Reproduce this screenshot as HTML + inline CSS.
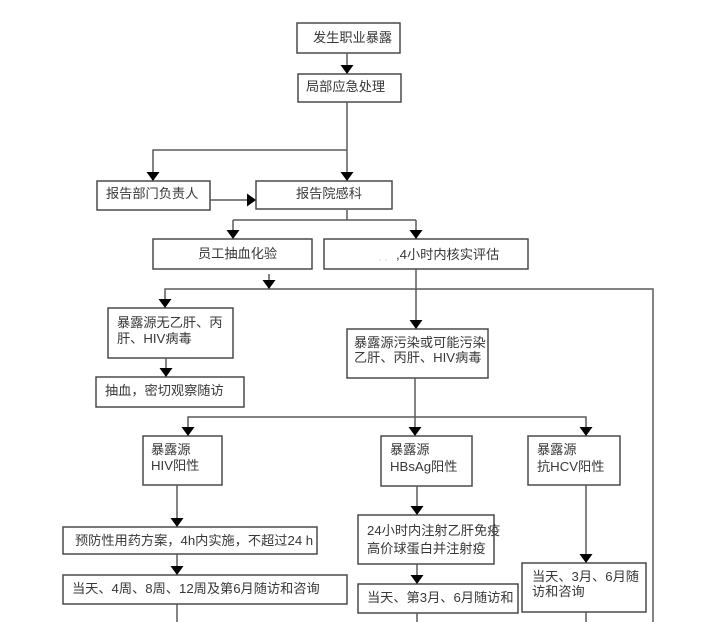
<!DOCTYPE html>
<html><head><meta charset="utf-8"><style>
html,body{margin:0;padding:0;background:#fff;}
svg{display:block;}
text{font-family:"Liberation Sans","Noto Sans CJK SC",sans-serif;font-size:13.2px;fill:#383838;}
</style></head><body>
<svg width="706" height="622" viewBox="0 0 706 622" xmlns="http://www.w3.org/2000/svg">
<g fill="#fff" stroke="#4a4a4a" stroke-width="1.5">
<rect x="297" y="23" width="103" height="30"/>
<rect x="298" y="74" width="103" height="28"/>
<rect x="97" y="181" width="113" height="29"/>
<rect x="256" y="181" width="136" height="28"/>
<rect x="153" y="239" width="159" height="30"/>
<rect x="324" y="239" width="204" height="30"/>
<rect x="108" y="308" width="125" height="50"/>
<rect x="96" y="377" width="148" height="30"/>
<rect x="347" y="329" width="141" height="49"/>
<rect x="143" y="436" width="79" height="49"/>
<rect x="381" y="436" width="91" height="50"/>
<rect x="528" y="436" width="92" height="49"/>
<rect x="63" y="527" width="254" height="27"/>
<rect x="63" y="575" width="284" height="29"/>
<rect x="358" y="515" width="136" height="49"/>
<rect x="358" y="584" width="160" height="29"/>
<rect x="522" y="563" width="124" height="49"/>
</g>
<g fill="none" stroke="#5a5a5a" stroke-width="1.5">
<path d="M347 53V66"/>
<path d="M347 102V173"/>
<path d="M347 150H153V173"/>
<path d="M210 200H248"/>
<path d="M347 210V220M233 220H416M233 220V231M416 220V231"/>
<path d="M269 274V281"/>
<path d="M165 300V289H653V622"/>
<path d="M416 269V321"/>
<path d="M166 358V369"/>
<path d="M415 378V428"/>
<path d="M188 428V417H586V428"/>
<path d="M177 485V519"/>
<path d="M177 554V567"/>
<path d="M177 604V622"/>
<path d="M417 486V507"/>
<path d="M417 564V576"/>
<path d="M417 613V622"/>
<path d="M586 485V555"/>
<path d="M586 612V622"/>
</g>
<g fill="#000">
<polygon points="340.5,65 353.5,65 347,74"/>
<polygon points="340.5,172 353.5,172 347,181"/>
<polygon points="146.5,172 159.5,172 153,181"/>
<polygon points="247,193.5 247,206.5 256,200"/>
<polygon points="226.5,230 239.5,230 233,239"/>
<polygon points="409.5,230 422.5,230 416,239"/>
<polygon points="262.5,280 275.5,280 269,289"/>
<polygon points="158.5,299 171.5,299 165,308"/>
<polygon points="409.5,320 422.5,320 416,329"/>
<polygon points="159.5,368 172.5,368 166,377"/>
<polygon points="181.5,427 194.5,427 188,436"/>
<polygon points="408.5,427 421.5,427 415,436"/>
<polygon points="579.5,427 592.5,427 586,436"/>
<polygon points="170.5,518 183.5,518 177,527"/>
<polygon points="170.5,566 183.5,566 177,575"/>
<polygon points="410.5,506 423.5,506 417,515"/>
<polygon points="410.5,575 423.5,575 417,584"/>
<polygon points="579.5,554 592.5,554 586,563"/>
</g>
<text x="313" y="42">发生职业暴露</text>
<text x="306" y="91">局部应急处理</text>
<text x="106" y="198">报告部门负责人</text>
<text x="296" y="198">报告院感科</text>
<text x="198" y="258">员工抽血化验</text>
<text x="378" y="259" style="fill:#bbb;font-size:10px">ˏ ˏ</text>
<text x="396" y="259">,4小时内核实评估</text>
<text x="117" y="327">暴露源无乙肝、丙</text>
<text x="117" y="343">肝、HIV病毒</text>
<text x="105" y="395">抽血，密切观察随访</text>
<text x="354" y="347">暴露源污染或可能污染</text>
<text x="354" y="362">乙肝、丙肝、HIV病毒</text>
<text x="151" y="454">暴露源</text>
<text x="151" y="470">HIV阳性</text>
<text x="390" y="454">暴露源</text>
<text x="390" y="471">HBsAg阳性</text>
<text x="537" y="454">暴露源</text>
<text x="537" y="471">抗HCV阳性</text>
<text x="75" y="545">预防性用药方案，4h内实施，不超过24 h</text>
<text x="72" y="593">当天、4周、8周、12周及第6月随访和咨询</text>
<text x="367" y="535">24小时内注射乙肝免疫</text>
<text x="367" y="553">高价球蛋白并注射疫</text>
<text x="367" y="602">当天、第3月、6月随访和</text>
<text x="532" y="581">当天、3月、6月随</text>
<text x="532" y="596">访和咨询</text>
</svg>
</body></html>
